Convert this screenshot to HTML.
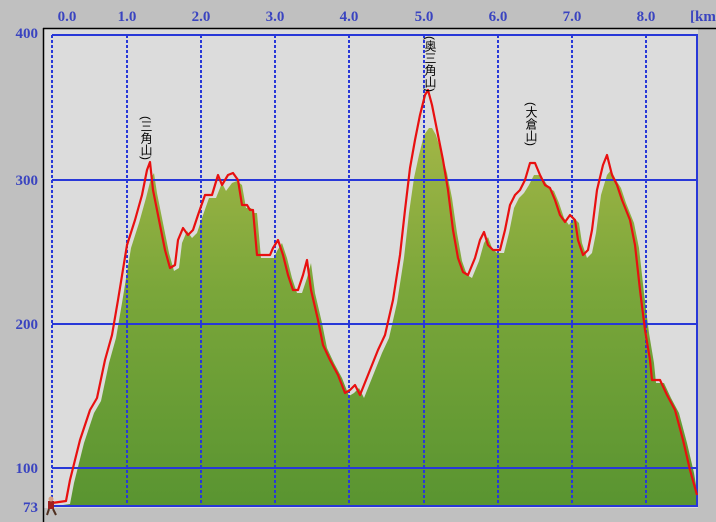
<!DOCTYPE html>
<html><head><meta charset="utf-8"><style>
html,body{margin:0;padding:0;background:#c0c0c0;}
svg{display:block;}
</style></head><body>
<svg width="716" height="522" xmlns="http://www.w3.org/2000/svg">
<defs>
<linearGradient id="g" x1="0" y1="90" x2="0" y2="506" gradientUnits="userSpaceOnUse">
<stop offset="0" stop-color="#a8b848"/>
<stop offset="0.45" stop-color="#7aa63a"/>
<stop offset="1" stop-color="#579330"/>
</linearGradient>
<clipPath id="c"><rect x="52" y="35" width="645" height="471"/></clipPath>
</defs>
<rect x="0" y="0" width="716" height="522" fill="#c0c0c0"/>
<rect x="44" y="29" width="672" height="493" fill="#dcdcdc"/>
<rect x="698" y="29" width="18" height="493" fill="#c0c0c0"/>
<rect x="44" y="508" width="672" height="14" fill="#c0c0c0"/>
<line x1="43.5" y1="28" x2="43.5" y2="522" stroke="#000" stroke-width="1.5"/>
<line x1="43" y1="28.5" x2="716" y2="28.5" stroke="#000" stroke-width="1.5"/>
<g clip-path="url(#c)">
<polygon fill="url(#g)" transform="translate(4,15)" points="52,494 52,491 66,489 70,468 80,428 90,398 97,386 105,348 112,323 118,288 127,233 135,208 142,183 147,163 150,158 153,178 158,203 165,238 170,256 175,253 178,228 183,216 188,223 193,218 198,203 205,183 212,183 218,168 222,176 228,168 233,166 238,170 242,193 247,193 250,198 253,198 257,243 263,243 270,243 273,236 278,228 283,243 288,263 293,278 298,278 303,263 307,248 311,278 318,308 323,333 330,348 338,363 345,381 350,378 355,373 360,383 368,363 378,338 385,323 393,288 400,243 405,198 410,163 415,140 420,120 425,113 428,113 432,120 438,140 443,158 448,183 453,218 458,246 463,260 468,263 475,246 480,228 484,222 488,233 493,238 500,238 505,218 510,193 515,183 520,178 525,170 530,160 535,160 540,165 545,173 550,176 555,188 560,203 565,210 570,203 575,208 578,228 583,243 588,238 592,218 597,180 603,160 607,155 612,165 617,173 622,188 630,208 635,233 640,278 645,318 650,348 652,368 660,368 667,383 675,398 683,428 690,458 694,482 694,494"/>
</g>
<g stroke="#2838d8" stroke-width="2" fill="none">
<line x1="52" y1="35" x2="698" y2="35"/>
<line x1="52" y1="180" x2="698" y2="180"/>
<line x1="52" y1="324" x2="698" y2="324"/>
<line x1="52" y1="468" x2="698" y2="468"/>
<line x1="52" y1="506" x2="698" y2="506"/>
<line x1="697" y1="35" x2="697" y2="506"/>
</g>
<g stroke="#2838d8" stroke-width="2" stroke-dasharray="3,2">
<line x1="52" y1="35" x2="52" y2="506"/>
<line x1="127" y1="35" x2="127" y2="506"/>
<line x1="201" y1="35" x2="201" y2="506"/>
<line x1="275" y1="35" x2="275" y2="506"/>
<line x1="349" y1="35" x2="349" y2="506"/>
<line x1="424" y1="35" x2="424" y2="506"/>
<line x1="498" y1="35" x2="498" y2="506"/>
<line x1="572" y1="35" x2="572" y2="506"/>
<line x1="646" y1="35" x2="646" y2="506"/>
</g>
<polyline fill="none" stroke="#e81010" stroke-width="2.2" stroke-linejoin="round" points="52,503 66,501 70,480 80,440 90,410 97,398 105,360 112,335 118,300 127,245 135,220 142,195 147,170 150,162 153,190 158,215 165,250 170,268 175,265 178,240 183,228 188,235 193,230 198,215 205,195 212,195 218,175 222,185 228,175 233,173 238,180 242,205 247,205 250,210 253,210 257,255 263,255 270,255 273,248 278,240 283,255 288,275 293,290 298,290 303,275 307,260 311,290 318,320 323,345 330,360 338,375 345,393 350,390 355,385 360,395 368,375 378,350 385,335 393,300 400,255 405,210 410,168 415,140 420,115 425,95 428,90 432,105 438,135 443,160 448,190 453,230 458,258 463,272 468,275 475,258 480,240 484,232 488,245 493,250 500,250 505,230 510,205 515,195 520,190 525,180 530,163 535,163 540,175 545,185 550,188 555,200 560,215 565,222 570,215 575,220 578,240 583,255 588,250 592,230 597,190 603,165 607,155 612,175 617,185 622,200 630,220 635,245 640,290 645,330 650,360 652,380 660,380 667,395 675,410 683,440 690,470 697,495"/>
<g font-family="Liberation Serif, serif" font-weight="bold" font-size="15" fill="#3a44c0">
<text x="67" y="21" text-anchor="middle">0.0</text>
<text x="127" y="21" text-anchor="middle">1.0</text>
<text x="201" y="21" text-anchor="middle">2.0</text>
<text x="275" y="21" text-anchor="middle">3.0</text>
<text x="349" y="21" text-anchor="middle">4.0</text>
<text x="424" y="21" text-anchor="middle">5.0</text>
<text x="498" y="21" text-anchor="middle">6.0</text>
<text x="572" y="21" text-anchor="middle">7.0</text>
<text x="646" y="21" text-anchor="middle">8.0</text>
<text x="690" y="21">[km]</text>
<text x="38" y="38" text-anchor="end">400</text>
<text x="38" y="185" text-anchor="end">300</text>
<text x="38" y="329" text-anchor="end">200</text>
<text x="38" y="473" text-anchor="end">100</text>
<text x="38" y="512" text-anchor="end">73</text>
</g>
<g font-family="Liberation Sans, 'Noto Sans CJK JP', sans-serif" font-size="12" fill="#000" style="writing-mode:vertical-rl">
<text x="146" y="116">(三角山)</text>
<text x="430" y="36">(奥三角山)</text>
<text x="531" y="102">(大倉山)</text>
</g>
<g>
<rect x="48" y="501" width="6" height="8" fill="#a02020"/>
<circle cx="51" cy="499" r="2.5" fill="#d8a080"/>
<line x1="49" y1="509" x2="47" y2="515" stroke="#503020" stroke-width="2"/>
<line x1="53" y1="509" x2="56" y2="515" stroke="#503020" stroke-width="2"/>
</g>
</svg>
</body></html>
